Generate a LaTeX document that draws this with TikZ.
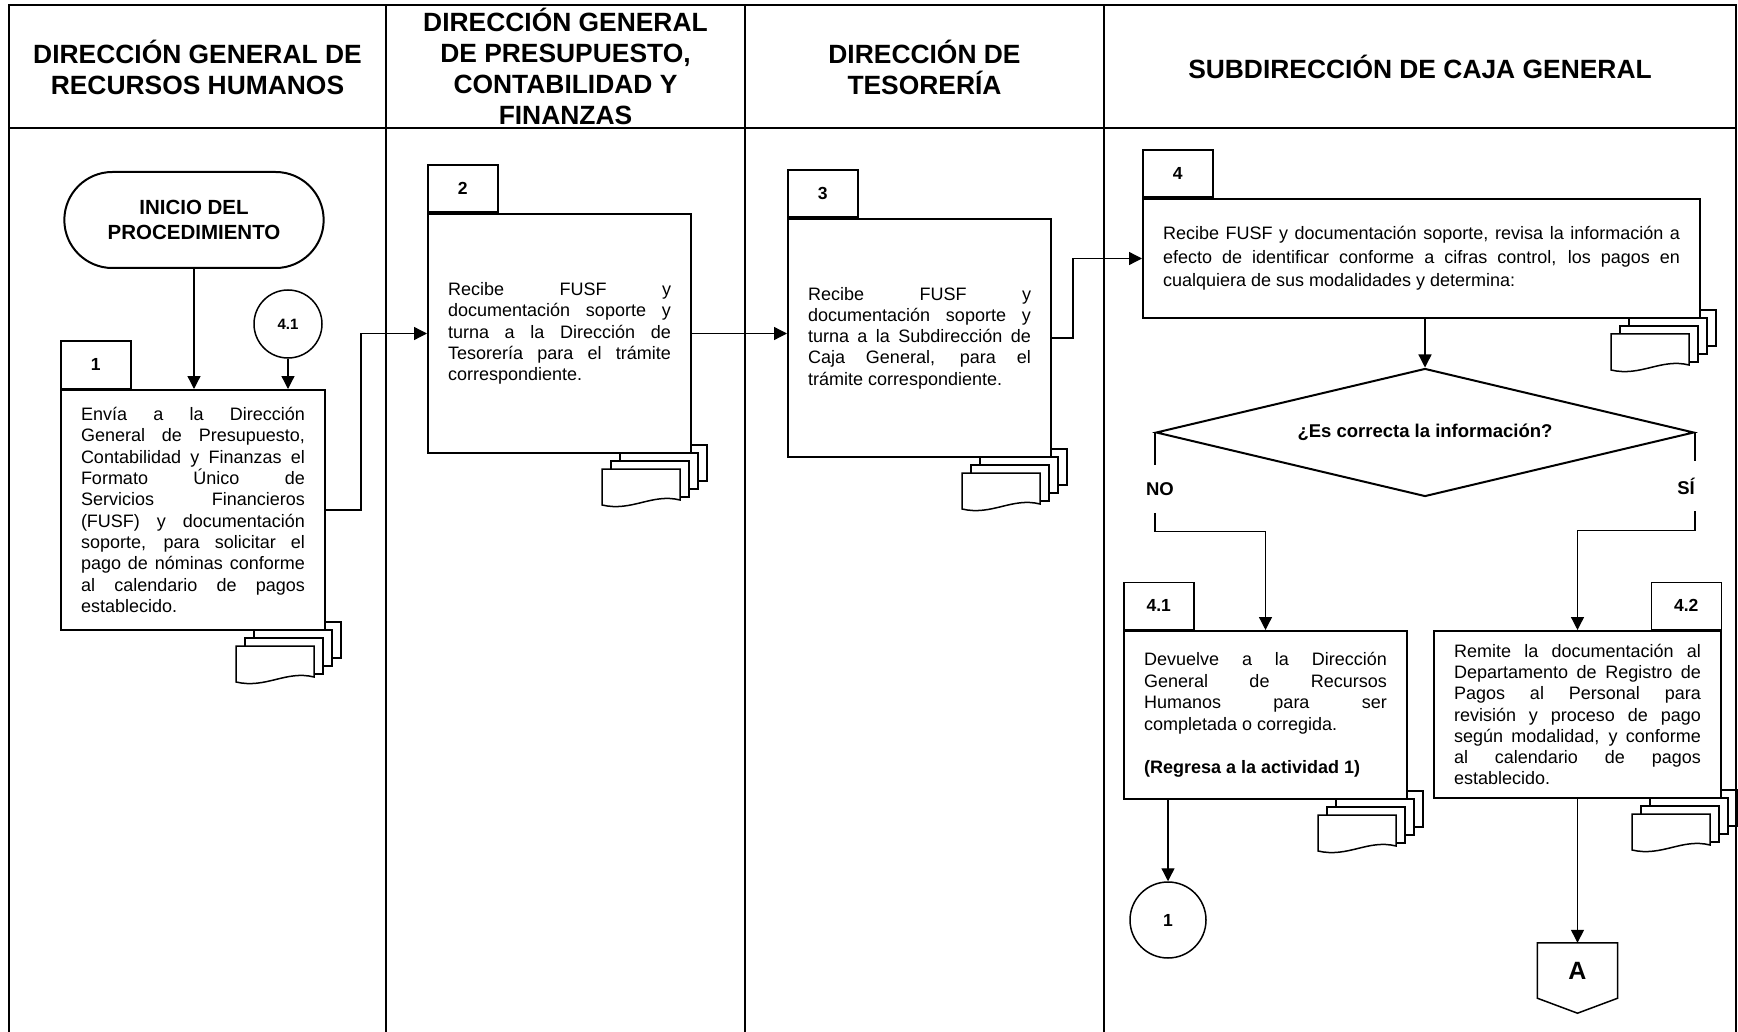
\documentclass[tikz,border=0pt]{standalone}
\usepackage{fontspec}
\setmainfont{Liberation Sans}
\usetikzlibrary{arrows.meta,shapes.geometric,shapes.misc,calc}
\pgfdeclarelayer{background}
\pgfsetlayers{background,main}

\tikzset{docstack/.pic={
    \foreach \pg in {3,2,1}
      \draw[sheet] (9*\pg,-8*\pg) rectangle ++(78,36);
    \draw[sheet] (0,0) -- (78,0) -- (78,31)
      .. controls (50,24) and (30,43) .. (0,36) -- cycle;
  }}

\begin{document}
\begin{tikzpicture}
[x=1pt,y=-1pt,
  frameline/.style={line width=2.5pt},
  sheet/.style={draw,fill=white,line width=1.5pt},
  actbox/.style={draw,fill=white,line width=2pt,inner xsep=20pt,inner ysep=0pt,
    align=justify,font=\fontsize{18}{21.3}\selectfont},
  numtab/.style={draw,fill=white,line width=1.5pt,minimum width=70pt,
    minimum height=47pt,inner sep=0pt,font=\fontsize{17.5}{20}\selectfont\bfseries},
  flow/.style={line width=1.3pt,-{Triangle[length=13pt,width=13pt]}},
  link/.style={line width=1.3pt},
  lanehead/.style={align=center,font=\fontsize{26.4}{31}\selectfont\bfseries},
  boldlbl/.style={font=\fontsize{18.5}{22}\selectfont\bfseries}]
\useasboundingbox (0,0) rectangle (1738,1032);

%% swimlane frame
\draw[frameline] (9,1032) -- (9,5) -- (1736,5) -- (1736,1032);
\draw[frameline] (9,128) -- (1736,128);
\foreach \x in {386,745,1104}
  \draw[frameline] (\x,5) -- (\x,1032);

%% lane titles
\node (h1) at (197.5,67) [lanehead] {DIRECCIÓN GENERAL DE\\RECURSOS HUMANOS};
\node (h2) at (565.5,66) [lanehead] {DIRECCIÓN GENERAL\\DE PRESUPUESTO,\\CONTABILIDAD Y\\FINANZAS};
\node (h3) at (924.5,67) [lanehead] {DIRECCIÓN DE\\TESORERÍA};
\node (h4) at (1420,67) [lanehead] {SUBDIRECCIÓN DE CAJA GENERAL};

%% start and connectors
\node (ini) at (194,220) [draw,rounded rectangle,line width=2pt,minimum width=266pt,
  minimum height=96pt,align=center,font=\fontsize{20.5}{24.5}\selectfont\bfseries]
  {INICIO DEL\\PROCEDIMIENTO};
\node (c41) at (288,324) [draw,circle,line width=1.5pt,minimum size=68pt,inner sep=0pt,
  font=\fontsize{15}{17}\selectfont\bfseries] {4.1};
\node (c1) at (1168,920) [draw,circle,line width=1.5pt,minimum size=76pt,inner sep=0pt,
  font=\fontsize{17.5}{20}\selectfont\bfseries] {1};
\node (offA) at (1577.5,970.5) [minimum width=80pt,minimum height=55pt,inner sep=0pt,
  font=\fontsize{25}{28}\selectfont\bfseries] {A};
\draw[line width=1.5pt] (offA.north west) -- (offA.north east) -- (offA.south east)
  -- ($(offA.south)+(0,15)$) -- (offA.south west) -- cycle;

%% activities
\node (b1) at (193,510) [actbox,text width=224pt,minimum height=240pt]
  {Envía a la Dirección\linebreak General de Presupuesto,\linebreak
   Contabilidad y Finanzas el\linebreak Formato Único de\linebreak
   Servicios Financieros\linebreak (FUSF) y documentación\linebreak
   soporte, para solicitar el\linebreak pago de nóminas conforme\linebreak
   al calendario de pagos\linebreak establecido.};
\node (b2) at (559.5,333.5) [actbox,text width=223pt,minimum height=239pt]
  {Recibe FUSF y\linebreak documentación soporte y\linebreak
   turna a la Dirección de\linebreak Tesorería para el trámite\linebreak
   correspondiente.};
\node (b3) at (919.5,338) [actbox,text width=223pt,minimum height=238pt]
  {Recibe FUSF y\linebreak documentación soporte y\linebreak
   turna a la Subdirección de\linebreak Caja General, para el\linebreak
   trámite correspondiente.};
\node (b4) at (1421.5,258.5) [actbox,text width=517pt,minimum height=119pt,
  font=\fontsize{18}{23.3}\selectfont]
  {Recibe FUSF y documentación soporte, revisa la información a\linebreak
   efecto de identificar conforme a cifras control, los pagos en\linebreak
   cualquiera de sus modalidades y determina:};
\node (b41) at (1265.5,715) [actbox,text width=243pt,minimum height=168pt,
  font=\fontsize{18}{21.5}\selectfont]
  {Devuelve a la Dirección\linebreak General de Recursos\linebreak
   Humanos para ser\linebreak completada o corregida.\par\vspace{21.5pt}
   {\bfseries (Regresa a la actividad 1)}};
\node (b42) at (1577.5,714.5) [actbox,text width=247pt,minimum height=167pt]
  {Remite la documentación al\linebreak Departamento de Registro de\linebreak
   Pagos al Personal para\linebreak revisión y proceso de pago\linebreak
   según modalidad, y conforme\linebreak al calendario de pagos\linebreak
   establecido.};

%% number tabs
\foreach \bx/\num in {b1/1, b2/2, b3/3, b4/4, b41/4.1}
  \node (t\bx) [numtab,anchor=south west] at (\bx.north west) {\num};
\node (tb42) [numtab,anchor=south east] at (b42.north east) {4.2};

%% decision
\node (dec) at (1425,432.5) [draw,diamond,aspect=4.2,line width=2pt,minimum width=538pt,
  minimum height=128pt,inner sep=0pt,boldlbl] {¿Es correcta la información?};
\node (no) at (1160,489) [boldlbl,inner ysep=17pt] {NO};
\node (si) at (1686,486) [boldlbl,inner ysep=17pt] {SÍ};

%% document stacks
\begin{pgfonlayer}{background}
\foreach \bx in {b1,b2,b3,b4,b41,b42}
  \pic at ($(\bx.south east)+(-90,15)$) {docstack};
\end{pgfonlayer}

%% edges
\draw[flow] (ini.south) -- (ini.south |- b1.north);
\draw[flow] (c41.south) -- (c41.south |- b1.north);
\draw[flow] (b1.east) -- ++(35,0) |- (b2.west);
\draw[flow] (b2.east) -- (b2.east -| b3.west);
\draw[flow] (b3.east) -- ++(21,0) |- (b4.west);
\draw[flow] (b4.south -| dec.north) -- (dec.north);
\draw[link] (dec.west) -- (dec.west |- no.north);
\draw[flow] (dec.west |- no.south) -- ++(0,19) -| (b41.north);
\draw[link] (dec.east) -- (dec.east |- si.north);
\draw[flow] (dec.east |- si.south) -- ++(0,19) -| (b42.north);
\draw[flow] (b41.south -| c1.north) -- (c1.north);
\draw[flow] (b42.south) -- (offA.north);
\end{tikzpicture}
\end{document}
